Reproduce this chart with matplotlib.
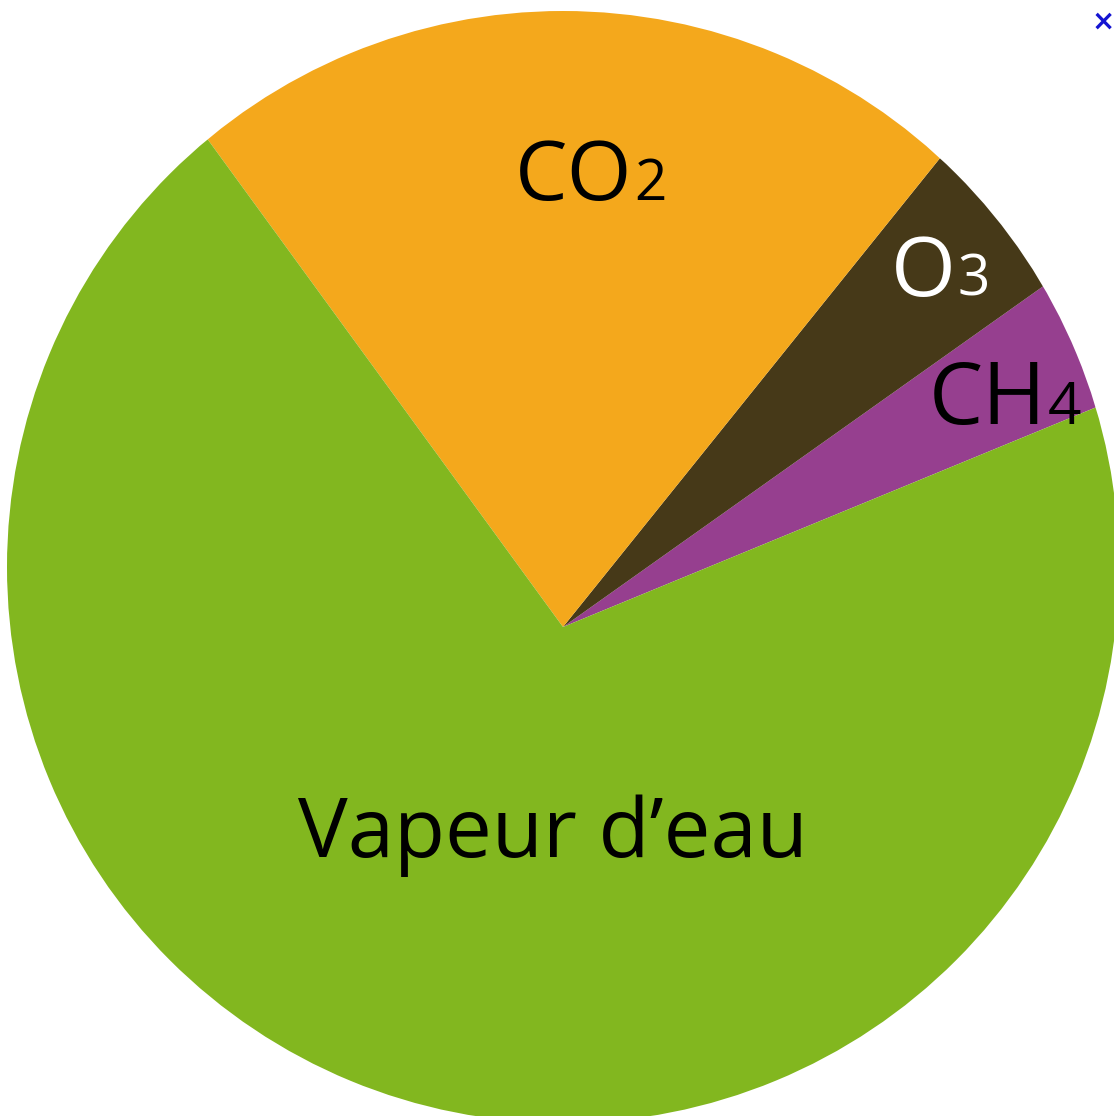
import matplotlib
matplotlib.use('Agg')
import matplotlib.pyplot as plt
from matplotlib.patches import Wedge

# shares (percent)
gases = ['CH4', 'O3', 'CO2', 'Vapeur d\u2019eau']
shares = [3.6, 4.4, 20.8, 71.2]
colors = ['#963f8f', '#463918', '#f4a81c', '#82b71f']

W, H = 1114, 1116
FONT = 'Open Sans'

fig = plt.figure(figsize=(W / 100, H / 100), dpi=100)
ax = fig.add_axes([0, 0, 1, 1])

# wedges meet below the middle of the disc: draw them big,
# then cover everything outside the disc with a white ring
wedges, _ = ax.pie(shares, colors=colors, startangle=22.4,
                   center=(563, H - 627), radius=900,
                   wedgeprops=dict(linewidth=0))
R = 556
ax.add_patch(Wedge((563, H - 567), R + 800, 0, 360, width=800,
                   facecolor='white', edgecolor='none', zorder=3))

ax.set_xlim(0, W)
ax.set_ylim(0, H)
ax.set_aspect('equal')
ax.axis('off')


def formula(x, y, main, digit, color, size):
    '''main letters end at x, smaller digit starts there, same baseline'''
    ax.text(x, H - y, main, ha='right', va='baseline', color=color,
            fontsize=size, family=FONT, zorder=4)
    ax.text(x + 2, H - y, digit, ha='left', va='baseline', color=color,
            fontsize=size * 0.68, family=FONT, zorder=4)


formula(632, 200, 'CO', '2', 'black', 60)
formula(956, 296, 'O', '3', 'white', 60)
formula(1046, 424, 'CH', '4', 'black', 62)

ax.text(553, H - 857, gases[3], ha='center', va='baseline', color='black',
        fontsize=60, family=FONT, zorder=4)

ax.text(1103, H - 22, '\u00d7', ha='center', va='center', color='#1414d2',
        fontsize=20, fontweight='bold', zorder=4)

fig.savefig('out.png', dpi=100, facecolor='white')
